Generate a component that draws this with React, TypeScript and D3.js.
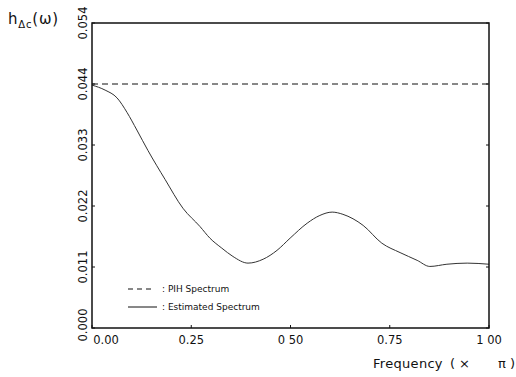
import React, { useEffect, useRef } from 'react';
import * as d3 from 'd3';

// frequency (x pi) and estimated spectrum
const freq = [0, 0.033, 0.063, 0.088, 0.113, 0.141, 0.184, 0.229, 0.272, 0.297, 0.327, 0.355, 0.393, 0.431, 0.466, 0.499, 0.542, 0.574, 0.605, 0.632, 0.683, 0.73, 0.776, 0.819, 0.851, 0.894, 0.945, 1.0];
const estimated = [0.0438, 0.0429, 0.0415, 0.0389, 0.0357, 0.0320, 0.0268, 0.0216, 0.0183, 0.0162, 0.0144, 0.0129, 0.0117, 0.0124, 0.0140, 0.0162, 0.0189, 0.0203, 0.0209, 0.0205, 0.0185, 0.0153, 0.0136, 0.0122, 0.0111, 0.0115, 0.0117, 0.0115];
const pihLevel = 0.044;

const xTicks = [0, 0.25, 0.5, 0.75, 1.0];
const xTickLabels = ['0.00', '0.25', '0 50', '0.75', '1 00'];
const yTicks = [0, 0.011, 0.022, 0.033, 0.044, 0.055];
const yTickLabels = ['0.000', '0.011', '0.022', '0.033', '0.044', '0.054'];

const legendLabels = [': PIH Spectrum', ': Estimated Spectrum'];

const W = 516;
const H = 377;
const margin = { left: 92, right: 27, top: 23, bottom: 49 };

const App = () => {
  const ref = useRef<SVGSVGElement>(null);

  useEffect(() => {
    const svg = d3.select(ref.current);
    svg.selectAll('*').remove();

    const x = d3.scaleLinear().domain([0, 1]).range([margin.left, W - margin.right]);
    const y = d3.scaleLinear().domain([0, 0.055]).range([H - margin.bottom, margin.top]);
    const font = "'DejaVu Sans', sans-serif";
    const ink = '#111';

    // PIH spectrum (flat, dashed)
    svg.append('line')
      .attr('x1', x(0)).attr('x2', x(1))
      .attr('y1', y(pihLevel)).attr('y2', y(pihLevel))
      .attr('stroke', ink).attr('stroke-width', 1)
      .attr('stroke-dasharray', '6,4');

    // estimated spectrum
    const line = d3.line<number>()
      .x((d, i) => x(freq[i]))
      .y(d => y(d))
      .curve(d3.curveMonotoneX);
    svg.append('path')
      .datum(estimated)
      .attr('d', line)
      .attr('fill', 'none')
      .attr('stroke', '#333')
      .attr('stroke-width', 1);

    // frame
    svg.append('rect')
      .attr('x', x(0)).attr('y', y(0.055))
      .attr('width', x(1) - x(0)).attr('height', y(0) - y(0.055))
      .attr('fill', 'none').attr('stroke', ink).attr('stroke-width', 1.5);

    // y ticks (inside, both sides)
    const yg = svg.append('g').attr('font-family', font).attr('font-size', 11.5).attr('fill', ink);
    yTicks.forEach((t, i) => {
      yg.append('line').attr('x1', x(0)).attr('x2', x(0) + 3).attr('y1', y(t)).attr('y2', y(t)).attr('stroke', ink);
      yg.append('line').attr('x1', x(1)).attr('x2', x(1) - 3).attr('y1', y(t)).attr('y2', y(t)).attr('stroke', ink);
      yg.append('text')
        .attr('transform', `translate(${x(0) - 5},${y(t) + (i === 0 ? -3 : 0)}) rotate(-90)`)
        .attr('text-anchor', 'middle')
        .text(yTickLabels[i]);
    });

    // x ticks
    const xg = svg.append('g').attr('font-family', font).attr('font-size', 11.5).attr('fill', ink);
    xTicks.forEach((t, i) => {
      xg.append('line').attr('x1', x(t)).attr('x2', x(t)).attr('y1', y(0)).attr('y2', y(0) - 3).attr('stroke', ink);
      xg.append('text')
        .attr('x', i === 0 ? x(t) + 14 : x(t))
        .attr('y', y(0) + 16)
        .attr('text-anchor', 'middle')
        .text(xTickLabels[i]);
    });

    // axis titles
    const yl = svg.append('text').attr('x', 8).attr('y', 24)
      .attr('font-family', font).attr('font-size', 15).attr('letter-spacing', 0.8).attr('fill', ink);
    yl.append('tspan').text('h');
    yl.append('tspan').attr('font-size', 10).attr('dy', 4).text('Δc');
    yl.append('tspan').attr('dy', -4).text('(ω)');

    const xl = svg.append('text')
      .attr('y', 368)
      .attr('font-family', font).attr('font-size', 13)
      .attr('fill', ink);
    xl.append('tspan').attr('x', 373).attr('letter-spacing', 0.3).text('Frequency');
    xl.append('tspan').attr('x', 450).text('(');
    xl.append('tspan').attr('x', 459).text('×');
    xl.append('tspan').attr('x', 498).text('π');
    xl.append('tspan').attr('x', 510).text(')');

    // legend
    const lg = svg.append('g').attr('font-family', font).attr('font-size', 9).attr('fill', ink);
    const ly = [289, 307];
    lg.append('line').attr('x1', 128).attr('x2', 155).attr('y1', ly[0]).attr('y2', ly[0])
      .attr('stroke', ink).attr('stroke-dasharray', '5,4');
    lg.append('line').attr('x1', 128).attr('x2', 157).attr('y1', ly[1]).attr('y2', ly[1])
      .attr('stroke', ink);
    legendLabels.forEach((l, i) => {
      lg.append('text').attr('x', 162).attr('y', ly[i] + 3).text(l);
    });
  }, []);

  return (
    <svg ref={ref} width={W} height={H}
      style={{ position: 'absolute', left: 0, top: 0, background: '#fff' }} />
  );
};

export default App;
